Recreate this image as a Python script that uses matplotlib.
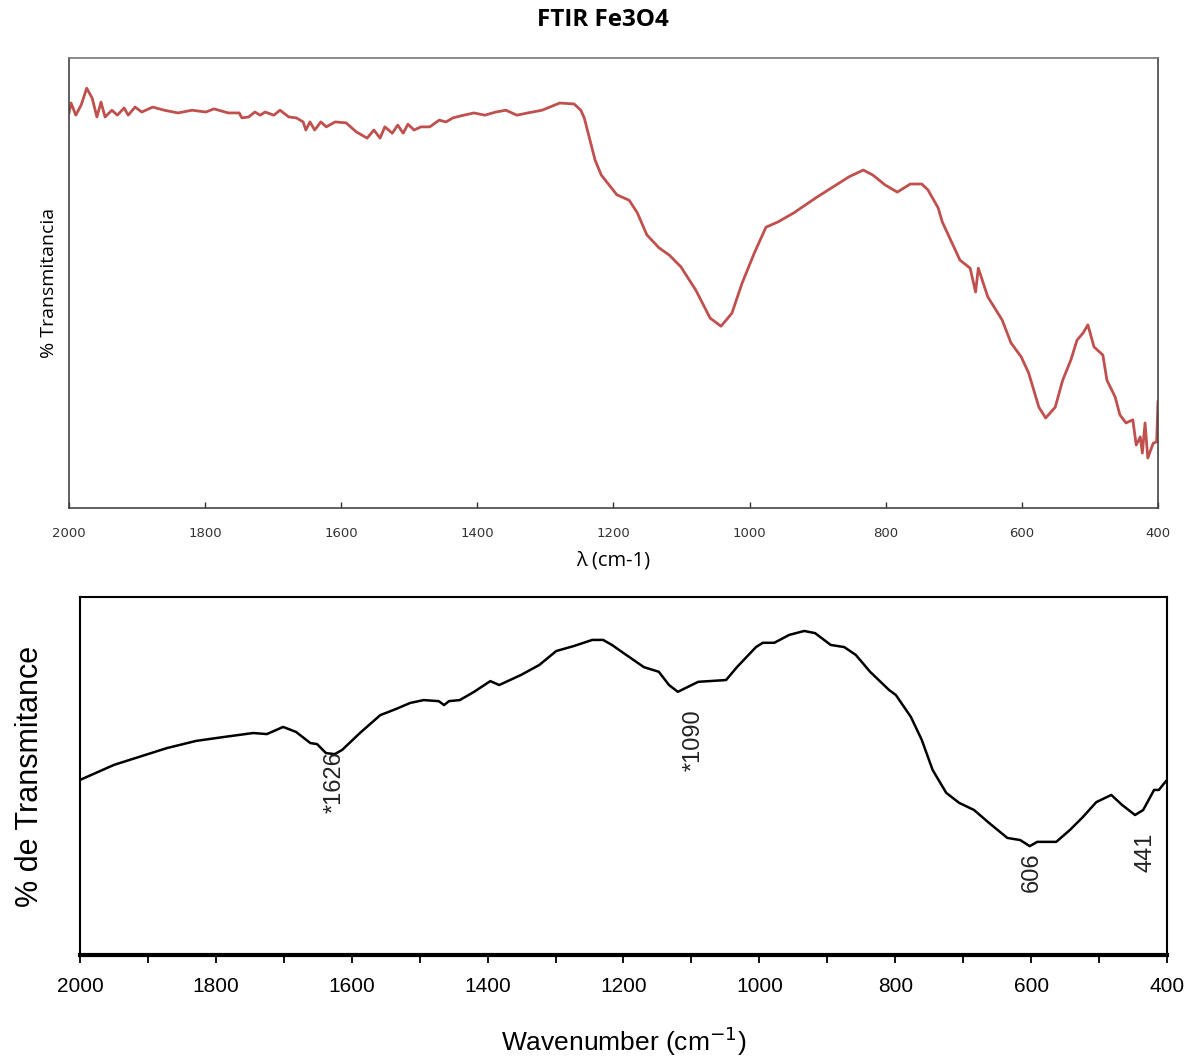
import numpy as np
import matplotlib
matplotlib.use('agg')
import matplotlib.pyplot as plt
from matplotlib.ticker import MultipleLocator

# upper spectrum (FTIR Fe3O4), transmittance in arbitrary %
wn_top = [2000, 1997, 1990, 1982, 1974, 1966, 1959, 1953, 1947, 1937, 1929, 1919,
          1913, 1903, 1893, 1877, 1860, 1840, 1819, 1799, 1787, 1766, 1750, 1746,
          1736, 1727, 1719, 1712, 1699, 1690, 1677, 1666, 1656, 1652, 1646, 1639,
          1630, 1622, 1609, 1593, 1578, 1562, 1552, 1543, 1536, 1525, 1517, 1509,
          1502, 1493, 1483, 1470, 1456, 1446, 1436, 1420, 1405, 1389, 1373, 1358,
          1342, 1326, 1305, 1279, 1258, 1248, 1243, 1232, 1227, 1218, 1195, 1177,
          1165, 1151, 1133, 1118, 1101, 1079, 1058, 1042, 1026, 1011, 993, 976,
          958, 935, 901, 854, 833, 819, 801, 783, 764, 747, 738, 723, 717, 691,
          676, 668, 664, 650, 629, 616, 601, 590, 575, 565, 551, 540, 528, 519,
          510, 503, 494, 481, 475, 463, 456, 447, 437, 432, 426, 423, 419, 415,
          407, 402, 400]
t_top = [87.8, 90.0, 87.3, 89.6, 93.3, 91.1, 86.9, 90.2, 86.9, 88.4, 87.3, 88.9,
         87.3, 89.1, 88.0, 89.1, 88.4, 87.8, 88.4, 88.0, 88.7, 87.8, 87.8, 86.7,
         86.9, 88.0, 87.3, 88.0, 87.3, 88.4, 86.9, 86.7, 85.8, 84.0, 85.8, 84.0,
         85.8, 84.7, 85.8, 85.6, 83.6, 82.2, 84.0, 82.2, 84.7, 83.3, 85.1, 83.3,
         85.3, 84.0, 84.7, 84.7, 86.2, 85.8, 86.7, 87.3, 87.8, 87.3, 88.0, 88.4,
         87.3, 87.8, 88.4, 90.0, 89.8, 88.4, 86.7, 80.2, 77.3, 74.0, 69.6, 68.4,
         65.6, 60.7, 57.8, 56.2, 53.6, 48.4, 42.2, 40.4, 43.3, 50.0, 56.7, 62.4,
         63.6, 65.6, 69.1, 73.6, 75.1, 74.0, 71.8, 70.2, 72.0, 72.0, 70.7, 66.7,
         63.6, 55.1, 53.3, 48.0, 53.3, 46.9, 41.8, 36.7, 33.6, 30.0, 22.4, 20.0,
         22.4, 28.4, 32.9, 37.3, 38.9, 40.7, 35.8, 34.0, 28.4, 24.7, 20.7, 18.9,
         19.6, 14.0, 15.8, 12.2, 18.9, 11.1, 14.4, 14.7, 23.6]

# lower spectrum
wn_bot = [2000, 1950, 1872, 1829, 1788, 1745, 1725, 1701, 1682, 1661, 1651, 1638,
          1625, 1614, 1588, 1558, 1535, 1514, 1494, 1472, 1464, 1457, 1441, 1420,
          1396, 1383, 1351, 1324, 1299, 1273, 1246, 1230, 1217, 1202, 1170, 1148,
          1133, 1120, 1090, 1049, 1033, 1005, 995, 978, 956, 934, 918, 895, 875,
          858, 837, 809, 799, 777, 761, 745, 725, 706, 684, 662, 635, 616, 602,
          591, 563, 543, 524, 504, 482, 466, 447, 435, 419, 412, 400]
t_bot = [48.9, 53.1, 57.8, 59.8, 60.9, 62.0, 61.7, 63.7, 62.3, 59.2, 58.9, 56.4,
         56.1, 57.3, 62.0, 67.0, 68.7, 70.4, 71.2, 70.9, 69.8, 70.9, 71.2, 73.5,
         76.5, 75.4, 78.2, 81.0, 84.9, 86.3, 88.0, 88.0, 86.6, 84.6, 80.4, 79.1,
         75.4, 73.5, 76.3, 76.8, 80.4, 86.0, 87.2, 87.2, 89.4, 90.5, 89.9, 86.6,
         86.0, 83.8, 79.1, 74.0, 72.6, 66.5, 60.1, 51.7, 45.3, 42.5, 40.5, 36.9,
         32.7, 32.1, 30.4, 31.6, 31.6, 34.9, 38.5, 42.7, 44.7, 41.9, 39.1, 40.5,
         46.1, 46.1, 48.9]

peak_labels = ['*1626', '*1090', '606', '441']
peak_x = [1625, 1096, 599, 432]
peak_y = [48.3, 60.1, 23.2, 28.8]

fig = plt.figure(figsize=(11.98, 10.59), dpi=100)

# ---- top panel
ax1 = fig.add_axes([0.0576, 0.5203, 0.909, 0.4249])
ax1.plot(wn_top, t_top, color='#C0504D', lw=2.0)
ax1.set_xlim(2000, 400)
ax1.set_ylim(0, 100)
ax1.set_xticks(np.arange(2000, 399, -200))
ax1.set_yticks([])
ax1.tick_params(axis='x', direction='in', length=4, width=1, labelsize=9.5,
                pad=14, colors='#333333')
for s in ax1.spines.values():
    s.set_color('#444444')
    s.set_linewidth(1.2)
ax1.spines['top'].set_color('#777777')
ax1.set_xlabel('λ (cm-1)', fontsize=14.5, family='Open Sans', labelpad=7)
ax1.set_ylabel('% Transmitancia', fontsize=14, family='Open Sans', labelpad=8)
fig.text(0.503, 0.981, 'FTIR Fe3O4', fontsize=17.5, fontweight='bold',
         family='Open Sans', ha='center', va='center')

# ---- bottom panel
ax2 = fig.add_axes([0.0668, 0.0982, 0.9073, 0.3381])
ax2.plot(wn_bot, t_bot, color='black', lw=1.8)
ax2.set_xlim(2000, 400)
ax2.set_ylim(0, 100)
ax2.xaxis.set_major_locator(MultipleLocator(200))
ax2.xaxis.set_minor_locator(MultipleLocator(100))
ax2.set_yticks([])
ax2.tick_params(axis='x', which='both', direction='out', length=6, width=1.3,
                labelsize=15, pad=10)
for lab in ax2.get_xticklabels():
    lab.set_family('Liberation Sans')
for s in ax2.spines.values():
    s.set_linewidth(1.5)
ax2.spines['bottom'].set_linewidth(3.0)
ax2.set_xlabel('Wavenumber (cm$^{-1}$)', fontsize=19, family='Liberation Sans',
               labelpad=20)
ax2.set_ylabel('% de Transmitance', fontsize=22, family='Liberation Sans',
               labelpad=25)

for lab, x, y in zip(peak_labels, peak_x, peak_y):
    ax2.text(x, y, lab, rotation=90, ha='center', va='center', fontsize=17,
             family='Liberation Sans', color='#222222')

fig.savefig('out.png', dpi=100)
